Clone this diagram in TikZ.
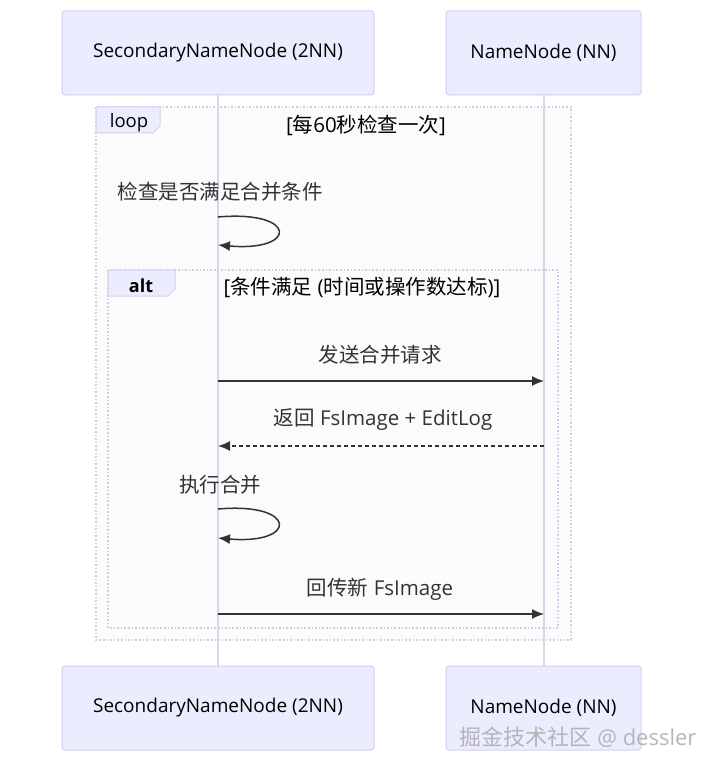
\documentclass[tikz,border=0pt]{standalone}
\usepackage{fontspec}
\setmainfont{Open Sans}
\newfontfamily\cjk{Noto Sans CJK SC}
\usetikzlibrary{arrows.meta,positioning,calc}
\definecolor{ActorFill}{RGB}{236,236,255}
\definecolor{ActorLine}{RGB}{208,208,240}
\definecolor{LifeLine}{RGB}{214,214,242}
\definecolor{FrameLine}{RGB}{206,206,226}
\definecolor{FrameFill}{RGB}{251,251,252}
\definecolor{MsgInk}{RGB}{51,51,51}
\tikzset{
  actor/.style={draw=ActorLine,fill=ActorFill,rounded corners=3pt,line width=1pt,
    minimum width=#1,minimum height=84pt,inner sep=0pt,font=\fontsize{19}{22}\selectfont},
  lifeline/.style={draw=LifeLine,line width=1.6pt},
  frame/.style={draw=FrameLine,dotted,line width=1.6pt},
  tab/.style={draw=ActorLine,fill=ActorFill,line width=1pt},
  msgtext/.style={font=\fontsize{20.5}{24}\selectfont,text=MsgInk},
  cond/.style={font=\fontsize{20.5}{24}\selectfont,text=black},
  msg/.style={-{Latex[length=12pt,width=10pt]},line width=1.5pt,MsgInk},
  reply/.style={msg,dashed,dash pattern=on 4pt off 3pt}
}

\begin{document}
\begin{tikzpicture}[x=1pt,y=-1pt]
  \useasboundingbox[fill=white] (0,0) rectangle (720,770);
  % frames
  \draw[frame,fill=FrameFill] (96,107) rectangle (571,640);
  \draw[frame] (108,270) rectangle (558,628);
  % actors
  \node[actor=312pt] (sec) at (218,53) {SecondaryNameNode (2NN)};
  \node[actor=195pt] (nn) at (543.5,53) {NameNode (NN)};
  \node[actor=312pt] (secb) at (218,708) {SecondaryNameNode (2NN)};
  \node[actor=195pt] (nnb) at (543.5,708) {NameNode (NN)};
  \draw[lifeline] (sec.south -| 218,0) -- (secb.north -| 218,0);
  \draw[lifeline] (nn.south -| 544,0) -- (nnb.north -| 544,0);
  % loop frame label
  \draw[tab] (96,107) -- (160,107) -- (160,126) -- (153,133) -- (96,133) -- cycle;
  \node[font=\fontsize{18.5}{22}\selectfont] (looplab) at (129,123) {loop};
  \node[cond] (loopcond) at (366,125) {[{\cjk 每}60{\cjk 秒检查一次}]};
  % self check
  \node[msgtext] (chk) at (220,192) {\cjk 检查是否满足合并条件};
  \coordinate (chka) at (218,217);
  \coordinate (chkb) at (218,245);
  \draw[msg] (chka) .. controls (298,210) and (298,252) .. (chkb);
  % alt frame label
  \draw[tab] (108,270) -- (175,270) -- (175,289) -- (168,296) -- (108,296) -- cycle;
  \node[font=\bfseries\fontsize{18}{22}\selectfont] (altlab) at (141,286) {alt};
  \node[cond,anchor=west] (altcond) at (220,287) {[{\cjk 条件满足} ({\cjk 时间或操作数达标})]};
  % messages
  \coordinate (s1) at (218,381);
  \coordinate (n1) at (544,381);
  \node[msgtext] (req) at (380,355) {\cjk 发送合并请求};
  \draw[msg] (s1) -- (n1);
  \coordinate (n2) at (544,446);
  \coordinate (s2) at (218,446);
  \node[msgtext] (ret) at (383,420) {{\cjk 返回} FsImage + EditLog};
  \draw[reply] (n2) -- (s2);
  \node[msgtext] (mrg) at (220,485) {\cjk 执行合并};
  \coordinate (mrga) at (218,509);
  \coordinate (mrgb) at (218,538);
  \draw[msg] (mrga) .. controls (298,502) and (298,545) .. (mrgb);
  \coordinate (s3) at (218,614);
  \coordinate (n3) at (544,614);
  \node[msgtext] (put) at (380,589) {{\cjk 回传新} FsImage};
  \draw[msg] (s3) -- (n3);
  % watermark
  \node[font=\fontsize{22}{26}\selectfont,text=gray!70,opacity=0.8,anchor=east] (wm) at (700,737) {{\cjk 掘金技术社区} @ dessler};
\end{tikzpicture}
\end{document}
